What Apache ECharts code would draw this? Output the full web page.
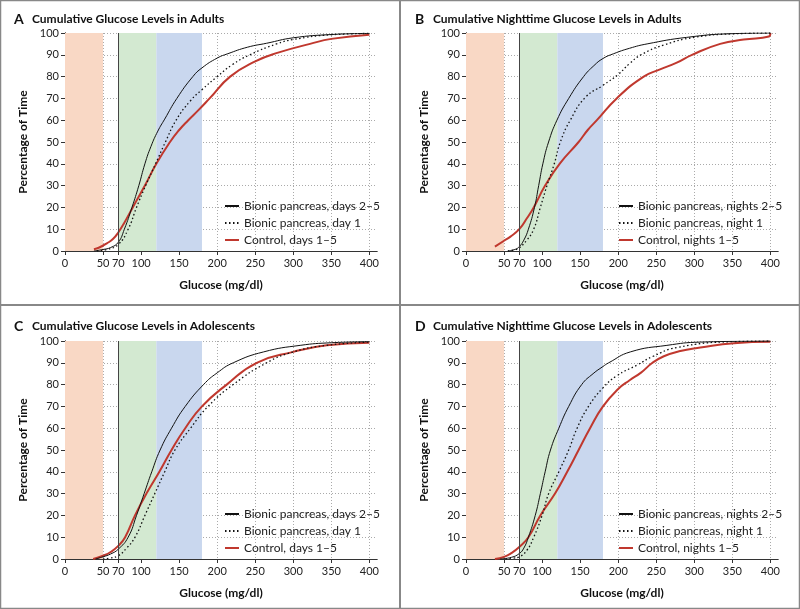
<!DOCTYPE html>
<html>
<head>
<meta charset="utf-8">
<script src="https://cdn.jsdelivr.net/npm/echarts@6/dist/echarts.min.js"></script>
<style>
  html, body { margin: 0; padding: 0; background: #fff; }
  #chart { width: 800px; height: 609px; }
</style>
</head>
<body>
<div id="chart"></div>
<script>
// glucose (mg/dl) vs cumulative percentage of time
const xTicks = [0, 50, 70, 100, 150, 200, 250, 300, 350, 400]

// A: adults, whole days
const adultsDays25 = [[38,0],[50,0.7],[60,1.6],[70,4],[78,10],[88,20],[97,30],[105,40],[113,48],[122,55],[131,60.5],[147,70],[168,80],[180,84],[200,88.5],[214,90.5],[240,93.5],[265,95.3],[300,97.8],[350,99.3],[400,99.8]]
const adultsDay1 = [[42,0],[55,0.7],[70,3],[83,10],[94,20],[106,30],[119,40],[132,50],[146,60],[165,69],[180,74],[200,80],[220,85.5],[243,90],[278,95],[300,97],[350,99.2],[400,99.8]]
const adultsControl = [[38,0.8],[45,1.6],[55,3.5],[63,5.5],[70,8.5],[78,13],[89,20],[105,30],[120,40],[138,50],[150,55.5],[162,60],[175,64.5],[190,70],[217,80],[250,87],[280,91],[322,95],[350,97.3],[400,99.2]]

// B: adults, nights
const adultsNights25 = [[55,0],[65,0.8],[70,2],[76,5],[82,10],[90,20],[95.5,30],[101,40],[108.5,50],[119.5,60],[135,70],[154.5,80],[168,85],[180,88.3],[194,90.5],[215,93],[238,95],[290,98],[350,99.7],[400,100]]
const adultsNight1 = [[55,0],[65,0.6],[70,1.4],[80,5],[89,10],[97.7,20],[106.4,30],[116,40],[124,50],[137,60],[157,70.5],[180,76],[200,81],[215,86],[230,90],[260,94.5],[300,98],[350,99.6],[400,100]]
const adultsNightControl = [[38,2],[50,4.7],[58,6.5],[70,10],[80,15],[89,20],[104,30],[123,40],[148,50],[160,55.5],[172,60],[198,70],[233.5,80],[255,83.3],[277,86.4],[297,90],[334,95],[365,97],[398,98.4],[400,100]]

// C: adolescents, whole days
const teensDays25 = [[40,0],[50,1],[60,2.3],[70,4.5],[83,10],[94,20],[104,30],[114,40],[125,50],[140,60],[158,70],[182,80],[200,85.4],[221,90],[261,95],[309,98],[350,99.2],[400,99.7]]
const teensDay1 = [[50,0],[60,0.5],[70,1.5],[81,5],[92,10],[105,20],[118,30],[131,40],[144.5,50],[165,60],[188,70],[221,80],[265,90],[300,95],[344,98],[400,99.5]]
const teensControl = [[37,0],[50,1.5],[60,3.2],[70,6],[79,10],[92,20],[107,30],[124,40],[140,50],[158,60],[180,70],[212.5,80],[252,90],[300,95],[344,98],[400,99.2]]

// D: adolescents, nights
const teensNights25 = [[45,0],[60,0.8],[70,2.5],[76,5],[82,10],[91,20],[97.7,30],[104,40],[111,50],[122,60],[135,70],[152,80],[167,85],[180,88.3],[187.5,90],[216,95],[264,98],[308,99.5],[400,100]]
const teensNight1 = [[52,0],[62,0.4],[70,1],[80,4],[89,10],[100,20],[108.6,30],[122,40],[135,50],[146,60],[161,70],[180,78.5],[198,84],[225,89],[246,93],[277,97],[350,99.7],[400,100]]
const teensNightControl = [[38,0],[50,1],[60,2.8],[70,5.5],[82,10],[97.7,20],[117,30],[133,40],[148,50],[163,60],[180,70],[200,78],[215,82],[230,85.5],[245,90],[260,93],[280,95.3],[308,97],[352,99],[400,99.6]]

const dayNames = ['Bionic pancreas, days 2–5', 'Bionic pancreas, day 1', 'Control, days 1–5']
const nightNames = ['Bionic pancreas, nights 2–5', 'Bionic pancreas, night 1', 'Control, nights 1–5']

const panels = [
    { letter: 'A', title: 'Cumulative Glucose Levels in Adults', names: dayNames, data: [adultsDays25, adultsDay1, adultsControl] },
    { letter: 'B', title: 'Cumulative Nighttime Glucose Levels in Adults', names: nightNames, data: [adultsNights25, adultsNight1, adultsNightControl] },
    { letter: 'C', title: 'Cumulative Glucose Levels in Adolescents', names: dayNames, data: [teensDays25, teensDay1, teensControl] },
    { letter: 'D', title: 'Cumulative Nighttime Glucose Levels in Adolescents', names: nightNames, data: [teensNights25, teensNight1, teensNightControl] },
]

const FONT = 'Lato'
const AXIS = '#333'
const boxes = [
    { left: 65, top: 33, ox: 0, oy: 0 },
    { left: 466, top: 33, ox: 401, oy: 0 },
    { left: 65, top: 341, ox: 0, oy: 307 },
    { left: 466, top: 341, ox: 401, oy: 307 },
]

const grid = [], xAxis = [], yAxis = [], series = [], legend = [], title = []

panels.forEach((p, i) => {
    const b = boxes[i]
    grid.push({ left: b.left, top: b.top, width: 312, height: 218 })

    title.push({
        text: '{l|' + p.letter + '}{t|' + p.title + '}',
        left: b.ox + 9, top: b.oy + 7,
        textStyle: {
            rich: {
                l: { fontFamily: FONT, fontWeight: 'bold', fontSize: 14, color: '#111', width: 18 },
                t: { fontFamily: FONT, fontWeight: 'bold', fontSize: 12, color: '#111' },
            },
        },
    })

    xAxis.push({
        type: 'value', gridIndex: i, min: 0, max: 410,
        name: 'Glucose (mg/dl)', nameLocation: 'middle', nameGap: 28,
        nameTextStyle: { fontFamily: FONT, fontWeight: 'bold', fontSize: 12, color: '#111' },
        axisLine: { show: true, lineStyle: { color: AXIS } },
        axisTick: { show: true, length: 4, customValues: xTicks, lineStyle: { color: AXIS } },
        axisLabel: { customValues: xTicks, margin: 7, fontFamily: FONT, fontSize: 11, color: '#222' },
        splitLine: { show: true, lineStyle: { color: '#aaa', type: [1, 2] } },
    })
    xAxis.push({
        type: 'value', gridIndex: i, min: 0, max: 410, position: 'top',
        axisLine: { show: true, lineStyle: { color: AXIS } },
        axisTick: { show: false }, axisLabel: { show: false }, splitLine: { show: false },
    })
    yAxis.push({
        type: 'value', gridIndex: i, min: 0, max: 100, interval: 10,
        name: 'Percentage of Time', nameLocation: 'middle', nameGap: 36,
        nameTextStyle: { fontFamily: FONT, fontWeight: 'bold', fontSize: 12, color: '#111' },
        axisLine: { show: true, lineStyle: { color: AXIS } },
        axisTick: { show: true, length: 4, lineStyle: { color: AXIS } },
        axisLabel: { margin: 6, fontFamily: FONT, fontSize: 11, color: '#222' },
        splitLine: { show: true, lineStyle: { color: '#aaa', type: [1, 2] } },
    })
    yAxis.push({
        type: 'value', gridIndex: i, min: 0, max: 100, interval: 10, position: 'right',
        axisLine: { show: true, lineStyle: { color: AXIS } },
        axisTick: { show: true, length: 3, lineStyle: { color: AXIS } },
        axisLabel: { show: false }, splitLine: { show: false },
    })

    // shaded glucose ranges, behind grid lines
    series.push({
        type: 'line', xAxisIndex: 2 * i, yAxisIndex: 2 * i, data: [], z: -1, silent: true,
        markArea: {
            silent: true,
            data: [
                [{ xAxis: 0, itemStyle: { color: '#f9d8c5' } }, { xAxis: 50 }],
                [{ xAxis: 70, itemStyle: { color: '#d3e9d1' } }, { xAxis: 120 }],
                [{ xAxis: 120, itemStyle: { color: '#c9d7ee' } }, { xAxis: 180 }],
            ],
        },
    })
    series.push({
        type: 'line', xAxisIndex: 2 * i, yAxisIndex: 2 * i, data: [], z: 1, silent: true,
        markLine: {
            silent: true, symbol: 'none', label: { show: false },
            lineStyle: { color: '#444', type: 'solid', width: 1 },
            data: [{ xAxis: 70 }],
        },
    })

    const styles = [
        { color: '#111', width: 1, type: 'solid' },
        { color: '#111', width: 1.3, type: [1.5, 2.5] },
        { color: '#c0382e', width: 2, type: 'solid' },
    ]
    p.data.forEach((d, k) => {
        series.push({
            name: p.names[k], type: 'line', xAxisIndex: 2 * i, yAxisIndex: 2 * i,
            data: d, showSymbol: false, symbol: 'none', smooth: 0.5,
            z: k === 2 ? 3 : 4,
            lineStyle: styles[k], itemStyle: { color: styles[k].color },
        })
    })

    legend.push({
        data: p.names, orient: 'vertical',
        left: b.left + (i % 2 ? 147 : 154), top: b.top + 162,
        itemWidth: 14, itemHeight: 12, itemGap: 5,
        itemStyle: { opacity: 0 },
        textStyle: { fontFamily: FONT, fontSize: 12, color: '#222' },
    })
})

const chart = echarts.init(document.getElementById('chart'), null, { renderer: 'canvas' })
chart.setOption({
    animation: false,
    backgroundColor: '#fff',
    title, grid, xAxis, yAxis, series, legend,
    graphic: [
        { type: 'rect', shape: { x: 0.5, y: 0.5, width: 799, height: 608 }, style: { fill: 'none', stroke: '#888', lineWidth: 1.5 } },
        { type: 'line', shape: { x1: 400, y1: 0, x2: 400, y2: 609 }, style: { stroke: '#888', lineWidth: 2 } },
        { type: 'line', shape: { x1: 0, y1: 305, x2: 800, y2: 305 }, style: { stroke: '#888', lineWidth: 2 } },
    ],
})
</script>
</body>
</html>
